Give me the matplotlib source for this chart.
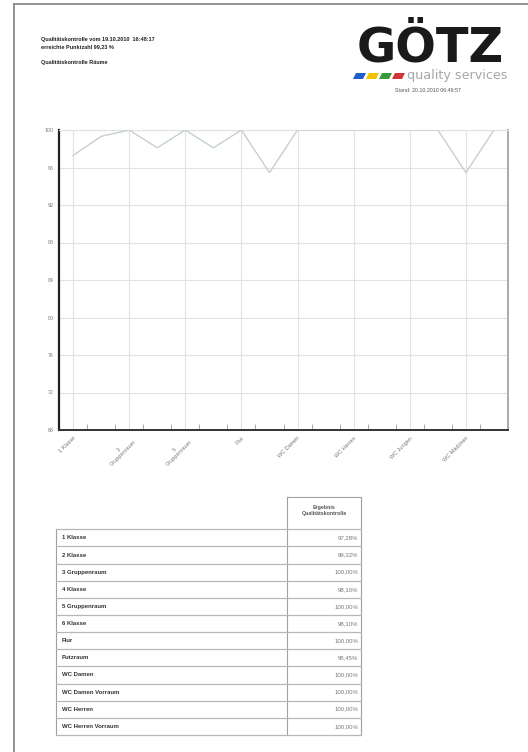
import matplotlib
matplotlib.use("Agg")
import matplotlib.pyplot as plt
from matplotlib.patches import Polygon
from matplotlib.lines import Line2D

plt.rcParams['font.family'] = ['Liberation Sans', 'DejaVu Sans']

# ---- data ----
chart_rooms = ["1 Klasse", "2 Klasse", "3 Gruppenraum", "4 Klasse", "5 Gruppenraum",
               "6 Klasse", "Flur", "Putzraum", "WC Damen", "WC Damen Vorraum",
               "WC Herren", "WC Herren Vorraum", "WC Jungen", "WC Jungen Vorraum",
               "WC Mädchen", "WC Mädchen Vorraum"]
chart_values = [97.28, 99.32, 100.0, 98.10, 100.0, 98.10, 100.0, 95.45,
                100.0, 100.0, 100.0, 100.0, 100.0, 100.0, 95.45, 100.0]
xtick_labels = ["1 Klasse", "3\nGruppenraum", "5\nGruppenraum", "Flur",
                "WC Damen", "WC Herren", "WC Jungen", "WC Mädchen"]
yticks = [68, 72, 76, 80, 84, 88, 92, 96, 100]

table_rooms = ["1 Klasse", "2 Klasse", "3 Gruppenraum", "4 Klasse", "5 Gruppenraum",
               "6 Klasse", "Flur", "Putzraum", "WC Damen", "WC Damen Vorraum",
               "WC Herren", "WC Herren Vorraum"]
table_values = ["97,28%", "99,32%", "100,00%", "98,10%", "100,00%", "98,10%",
                "100,00%", "95,45%", "100,00%", "100,00%", "100,00%", "100,00%"]

W, H = 528, 752
fig = plt.figure(figsize=(W / 100, H / 100), dpi=100)
fig.patch.set_facecolor('white')

# ---- chart ----
ax = fig.add_axes([59 / W, 1 - 430 / H, (508 - 59) / W, 300 / H])
xs = list(range(len(chart_values)))
ax.plot(xs, chart_values, color='#c5d0d0', lw=1.0, zorder=3)
ax.set_xlim(-0.5, len(chart_values) - 0.5)
ax.set_ylim(68, 100)
ax.set_yticks(yticks)
ax.set_yticklabels([str(v) for v in yticks], fontsize=3.8, color='#777777')
ax.set_xticks(xs[::2])
ax.set_xticklabels(xtick_labels, fontsize=4.0, color='#777777', rotation=45,
                   ha='right', va='top', rotation_mode='anchor', multialignment='center')
ax.set_xticks([x + 0.5 for x in xs[:-1]], minor=True)
ax.tick_params(axis='x', which='major', length=0, pad=4)
ax.tick_params(axis='x', which='minor', direction='in', length=4, width=0.6, color='#999999')
ax.tick_params(axis='y', length=0, pad=4)
ax.grid(True, which='major', color='#e2e2e2', lw=0.8)
ax.set_axisbelow(True)
ax.spines['left'].set_color('#222222')
ax.spines['left'].set_linewidth(1.6)
ax.spines['bottom'].set_color('#333333')
ax.spines['bottom'].set_linewidth(1.4)
ax.spines['right'].set_color('#aaaaaa')
ax.spines['right'].set_linewidth(1.4)
ax.spines['top'].set_color('#e2e2e2')
ax.spines['top'].set_linewidth(0.8)

# ---- overlay for page decorations ----
ov = fig.add_axes([0, 0, 1, 1], facecolor='none')
ov.set_xlim(0, W)
ov.set_ylim(H, 0)
ov.axis('off')

# page border
ov.add_line(Line2D([13.5, 13.5], [4, H], color='#8a8a8a', lw=1.3))
ov.add_line(Line2D([13.5, W], [4, 4], color='#8a8a8a', lw=1.3))

# header texts
ov.text(41, 39.5, "Qualitätskontrolle vom 19.10.2010  16:48:17", fontsize=3.95,
        fontweight='bold', color='#222222', va='center', ha='left')
ov.text(41, 46.7, "erreichte Punktzahl 99,23 %", fontsize=3.95,
        fontweight='bold', color='#222222', va='center', ha='left')
ov.text(41, 62.7, "Qualitätskontrolle Räume", fontsize=3.95,
        fontweight='bold', color='#222222', va='center', ha='left')

# logo
ov.text(357, 62, "GÖTZ", fontsize=34.5, fontweight='bold', color='#1a1a1a',
        ha='left', va='baseline', family='DejaVu Sans')
for i, col in enumerate(['#1f5fc8', '#f2c200', '#3a9a3a', '#d03434']):
    x0 = 353 + i * 13
    ov.add_patch(Polygon([[x0, 79], [x0 + 3, 73], [x0 + 13, 73], [x0 + 10, 79]],
                         closed=True, facecolor=col, edgecolor='none'))
ov.text(407, 79, "quality services", fontsize=9.2, color='#a6a6a6',
        ha='left', va='baseline', family='DejaVu Sans')
ov.text(428, 91, "Stand: 20.10.2010 06:49:57", fontsize=3.8, color='#555555',
        ha='center', va='center')

# ---- table ----
tl, tr, tc = 56, 361, 287
top, rh = 529.3, 17.14
hdr_top = 497
gc = '#a0a0a0'
# header box
ov.add_line(Line2D([tc, tr], [hdr_top, hdr_top], color=gc, lw=0.8))
ov.add_line(Line2D([tc, tc], [hdr_top, top], color=gc, lw=0.8))
ov.add_line(Line2D([tr, tr], [hdr_top, top], color=gc, lw=0.8))
ov.text((tc + tr) / 2, 510.5, "Ergebnis\nQualitätskontrolle", fontsize=3.8,
        fontweight='bold', color='#555555', ha='center', va='center',
        multialignment='center', linespacing=1.5)
n = len(table_rooms)
bottom = top + n * rh
ov.add_line(Line2D([tl, tl], [top, bottom], color=gc, lw=0.8))
ov.add_line(Line2D([tr, tr], [top, bottom], color=gc, lw=0.8))
ov.add_line(Line2D([tc, tc], [top, bottom], color=gc, lw=0.8))
for i in range(n + 1):
    y = top + i * rh
    ov.add_line(Line2D([tl, tr], [y, y], color='#b8b8b8', lw=0.9))
for i, (name, val) in enumerate(zip(table_rooms, table_values)):
    yc = top + (i + 0.5) * rh
    ov.text(62, yc, name, fontsize=4.3, fontweight='bold', color='#333333',
            ha='left', va='center')
    ov.text(358, yc, val, fontsize=4.3, color='#777777', ha='right', va='center')

fig.savefig("out.png", dpi=100)
